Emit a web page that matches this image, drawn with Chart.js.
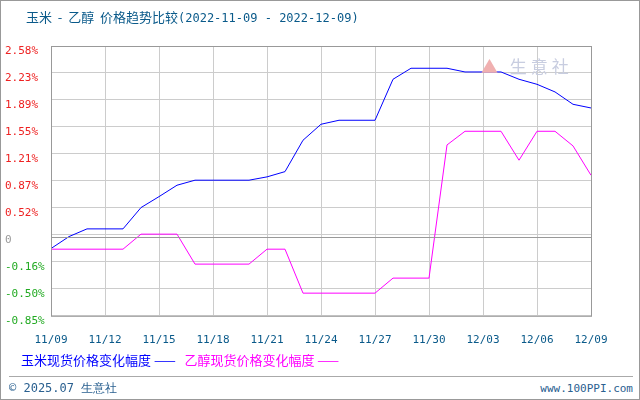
<!DOCTYPE html>
<html><head><meta charset="utf-8">
<script src="https://cdn.jsdelivr.net/npm/chart.js@4"></script>
<style>
body{margin:0;background:#fff;}
#wrap{position:relative;width:638px;height:398px;border:1px solid #999;overflow:hidden;font-family:"DejaVu Sans Mono",monospace;}
#title{position:absolute;left:25px;top:6px;font-size:13px;color:#0a5a8a;font-family:"Noto Sans CJK SC",sans-serif;white-space:pre;}
#title span{font-family:"DejaVu Sans Mono";font-size:12px;}
#c{position:absolute;left:0;top:0;}
#legend{position:absolute;left:20px;top:349px;font-size:13px;font-family:"Noto Sans CJK SC",sans-serif;}
#foot{position:absolute;left:8px;top:375px;width:624px;border-top:1px solid #aaa;font-size:12px;color:#2a6090;}
#foot .l{position:absolute;left:0;top:3px;}
#foot .r{position:absolute;right:0;top:5px;font-family:"DejaVu Sans Mono";font-size:11px;}
#wm{position:absolute;left:480px;top:52px;font-size:17px;color:#c8cde0;font-family:"Noto Sans CJK SC";letter-spacing:4px;}
</style></head><body>
<div id="wrap">
<canvas id="c" width="640" height="364"></canvas>
<div id="title">玉米&nbsp;&nbsp;-&nbsp;&nbsp;乙醇&nbsp;&nbsp;价格趋势比较<span>(2022-11-09 - 2022-12-09)</span></div>
<div id="wm"><span style="color:#f0b0b0">▲</span> 生意社</div>
<div id="legend"><span style="color:#0000ff">玉米现货价格变化幅度 —— </span>&nbsp;&nbsp;<span style="color:#ff00ff">乙醇现货价格变化幅度 ——</span></div>
<div id="foot"><span class="l">© 2025.07 生意社</span><span class="r">www.100PPI.com</span></div>
</div>
<script>
const dates=['11/09','11/10','11/11','11/12','11/13','11/14','11/15','11/16','11/17','11/18','11/19','11/20','11/21','11/22','11/23','11/24','11/25','11/26','11/27','11/28','11/29','11/30','12/01','12/02','12/03','12/04','12/05','12/06','12/07','12/08','12/09'];
const corn=[0.005,0.157,0.255,0.255,0.255,0.526,0.665,0.81,0.874,0.874,0.874,0.874,0.916,0.983,1.382,1.585,1.636,1.636,1.636,2.157,2.297,2.297,2.297,2.25,2.25,2.25,2.157,2.093,1.996,1.839,1.792];
const ethanol=[-0.003,-0.003,-0.003,-0.003,-0.003,0.188,0.188,0.188,-0.193,-0.193,-0.193,-0.193,-0.003,-0.003,-0.562,-0.562,-0.562,-0.562,-0.562,-0.371,-0.371,-0.371,1.322,1.496,1.496,1.496,1.128,1.496,1.496,1.31,0.937];
const tickLabels=['-0.85%','-0.50%','-0.16%','0','0.52%','0.87%','1.21%','1.55%','1.89%','2.23%','2.58%'];
const yMin=-0.85,yMax=2.58,step=(yMax-yMin)/10;
const frame={id:'frame',afterDraw(ch){const a=ch.chartArea,c=ch.ctx;c.save();c.strokeStyle='#999';c.lineWidth=1;c.strokeRect(a.left+0.5,a.top+0.5,a.right-a.left,a.bottom-a.top);
const y=Math.round(ch.scales.y.getPixelForValue(0.154))+0.5;c.beginPath();c.moveTo(a.left,y);c.lineTo(a.right,y);c.stroke();c.restore();}};
new Chart(document.getElementById('c'),{type:'line',
data:{labels:dates,datasets:[
{data:corn,borderColor:'#0000ff',borderWidth:1,pointRadius:0,tension:0},
{data:ethanol,borderColor:'#ff00ff',borderWidth:1,pointRadius:0,tension:0}]},
options:{responsive:false,animation:false,layout:{padding:{left:4,right:50,top:45,bottom:0}},
plugins:{legend:{display:false},tooltip:{enabled:false}},
scales:{
x:{offset:false,border:{display:false},grid:{drawTicks:false,color:c=>c.index%3===0?'#ccc':'transparent',borderDash:[3,3]},
ticks:{autoSkip:false,maxRotation:0,padding:18,color:'#0a5a8a',font:{family:'DejaVu Sans Mono',size:11},callback:(v,i)=>i%3===0?dates[i]:''}},
y:{min:yMin,max:yMax,afterFit(s){s.width=46;},border:{display:false},
afterBuildTicks(s){s.ticks=tickLabels.map((_,k)=>({value:yMin+k*step}));},
grid:{drawTicks:false,color:'#ccc',borderDash:[3,3]},
ticks:{padding:4,align:'start',crossAlign:'far',font:{family:'DejaVu Sans Mono',size:11},
color:c=>c.index<3?'#22aa22':(c.index===3?'#999':'#ee2222'),
callback:(v,i)=>tickLabels[i]}}}},
plugins:[frame]});
</script>
</body></html>
